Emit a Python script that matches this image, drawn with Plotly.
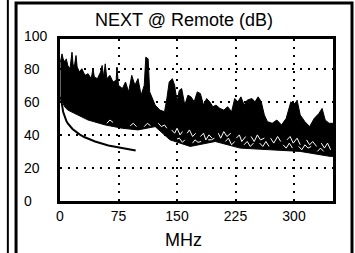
import plotly.graph_objects as go

# ---- data ----
upper_mhz = [0.5, 2.6, 4, 6.4, 8, 10, 12.8, 14, 15.4, 16.7, 18, 20.5, 22, 25, 28, 32, 36, 40, 42.3, 44,
             48, 52, 54, 56, 58, 60, 64, 68, 72, 73, 75, 80, 84, 88, 92, 96, 100, 104, 108, 110,
             113, 115, 118, 122, 128, 134, 137, 140, 144, 147, 150, 153, 156, 160, 164, 168, 172, 176, 180, 184,
             188, 192, 196, 200, 205, 210, 215, 220, 224, 228, 232, 236, 240, 246, 250, 254, 258, 262, 266, 272,
             278, 284, 290, 296, 300, 304, 308, 314, 320, 326, 332, 336, 340, 345, 350]
upper_db = [84, 89, 86, 84, 86, 82, 80, 85, 90, 83, 80, 88, 81, 78, 80, 76, 77, 74, 80, 75,
            74, 78, 82, 75, 83, 74, 76, 72, 73, 81, 70, 68, 72, 66, 76, 70, 74, 64, 70, 87,
            86, 66, 62, 58, 55, 54, 62, 72, 74, 70, 60, 67, 68, 58, 64, 63, 60, 66, 65, 58,
            62, 60, 57, 58, 56, 55, 57, 54, 62, 60, 63, 58, 61, 62, 60, 63, 60, 52, 48, 47,
            49, 46, 50, 60, 58, 61, 52, 48, 45, 50, 53, 56, 49, 47, 47]

lower_mhz = [0.5, 3, 6, 10, 36, 58, 80, 100, 122, 141, 167, 199, 231, 269, 308, 346, 350]
lower_db = [63, 60, 57, 55, 49, 46, 44, 43, 45, 37, 33, 36, 32, 31, 30, 27, 27]

# white gaps between the overlapping sweeps (lace texture at the bottom of the mass)
gap1_mhz = [126, 130, 134, 137, None, 143, 147, 150, 154, 157, None, 163, 166, 170, 174, None,
            180, 184, 187, 191, 195, None, 203, 206, 210, 214, 219, None, 226, 230, 233, 238, None,
            245, 249, 253, 257, 262, None, 270, 274, 279, 283, None, 291, 295, 299, 304, 308, None,
            316, 320, 324, 329, None, 335, 339, 343, 347]
gap1_db = [47, 45, 46, 44, None, 43, 41, 44, 40, 42, None, 41, 43, 39, 41, None,
           39, 41, 37, 40, 38, None, 41, 38, 42, 39, 41, None, 38, 40, 36, 39, None,
           39, 36, 40, 37, 38, None, 38, 35, 39, 36, None, 37, 39, 35, 38, 34, None,
           37, 34, 36, 33, None, 35, 32, 35, 31]
gap2_mhz = [150, 153, 157, 160, None, 170, 173, 177, 181, None, 190, 194, 198, None,
            212, 216, 220, 224, None, 236, 240, 244, 248, None, 256, 260, 264, 268, None,
            286, 290, 294, 298, None, 306, 310, 314, 318, 322, None, 330, 334, 338]
gap2_db = [37.5, 38, 35.5, 37, None, 35, 37, 35.5, 36, None, 37, 37, 38, None,
           36, 38, 34, 36, None, 34, 36, 33, 35, None, 35, 33, 36, 33, None,
           34, 32, 35, 32, None, 33, 31, 34, 32, 33, None, 30, 32, 30]
gap3_mhz = [60, 64, 68, None, 90, 94, 98, None, 108, 112, 116]
gap3_db = [47, 49, 47.5, None, 45.5, 47, 45, None, 45, 47, 45.5]

limit_mhz = [1, 2, 4, 8, 10, 16, 20, 25, 31, 45, 62, 80, 97]
limit_db = [63, 60, 54, 48.6, 47, 43.6, 42, 40.3, 38.7, 36, 33.6, 31.8, 30.5]

x_ticks = [0, 75, 150, 225, 300]
y_ticks = [0, 20, 40, 60, 80, 100]
Y_MAX = 98

FONT = "Liberation Sans, Arial, sans-serif"

fig = go.Figure()

# NEXT measurement envelope (dense black mass)
fig.add_trace(go.Scatter(
    x=upper_mhz + lower_mhz[::-1], y=upper_db + lower_db[::-1],
    mode="lines", fill="toself", fillcolor="black",
    line=dict(color="black", width=1), hoverinfo="skip", showlegend=False))
for gx, gy in ((gap1_mhz, gap1_db), (gap2_mhz, gap2_db), (gap3_mhz, gap3_db)):
    fig.add_trace(go.Scatter(x=gx, y=gy, mode="lines", line=dict(color="white", width=1),
                             connectgaps=False, hoverinfo="skip", showlegend=False))

# Limit line
fig.add_trace(go.Scatter(x=limit_mhz, y=limit_db, mode="lines",
                         line=dict(color="black", width=2),
                         showlegend=False))

grid = dict(showgrid=True, gridcolor="black", gridwidth=2, griddash="2px,6px",
            zeroline=False, showline=True, linecolor="black", linewidth=3,
            mirror=True, ticks="")

fig.update_xaxes(range=[0, 350], tickvals=x_ticks, ticktext=[str(v) for v in x_ticks],
                 tickfont=dict(family=FONT, size=14, color="black"), **grid)
fig.update_yaxes(range=[0, Y_MAX], tickvals=[20, 40, 60, 80], showticklabels=False, **grid)

annotations = []
for v in y_ticks:
    annotations.append(dict(x=-0.139, xref="paper", y=v / Y_MAX, yref="paper", text=str(v),
                            showarrow=False, xanchor="left", yanchor="middle",
                            font=dict(family=FONT, size=14, color="black")))
annotations.append(dict(x=0.454, xref="paper", y=1.117, yref="paper", text="NEXT @ Remote (dB)",
                        showarrow=False, xanchor="center", yanchor="middle",
                        font=dict(family=FONT, size=18, color="black")))
annotations.append(dict(x=0.451, xref="paper", y=-0.241, yref="paper", text="MHz",
                        showarrow=False, xanchor="center", yanchor="middle",
                        font=dict(family=FONT, size=18, color="black")))

shapes = [
    dict(type="rect", xref="paper", yref="paper", x0=-0.161, x1=1.0696, y0=-0.4, y1=1.222,
         line=dict(color="black", width=3), layer="below"),
    dict(type="line", xref="paper", yref="paper", x0=-0.191, x1=-0.191, y0=-0.4, y1=1.3,
         line=dict(color="black", width=2)),
]

fig.update_layout(width=355, height=253, margin=dict(l=60, r=22, t=39, b=52),
                  paper_bgcolor="white", plot_bgcolor="white",
                  annotations=annotations, shapes=shapes, showlegend=False)

fig.write_html("out.html", config={"displayModeBar": False},
               post_script="document.body.style.margin='0';")
